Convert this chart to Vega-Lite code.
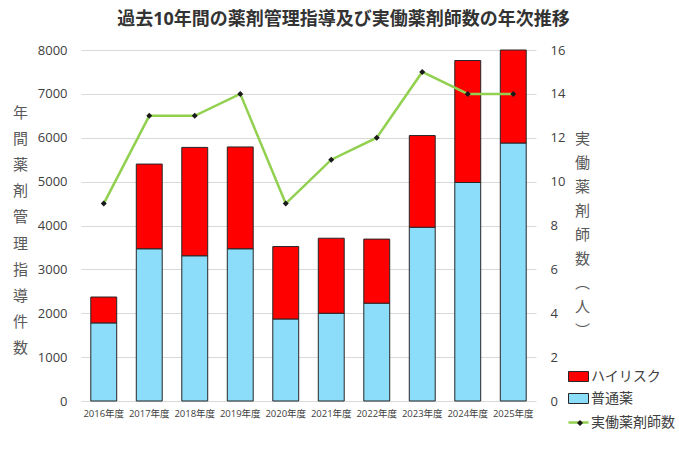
{
  "$schema": "https://vega.github.io/schema/vega-lite/v6.json",
  "description": "過去10年間の薬剤管理指導件数（積み上げ棒）と実働薬剤師数（折れ線）",
  "width": 455,
  "height": 351,
  "autosize": {"type": "none"},
  "padding": {"left": 81, "top": 50, "right": 143, "bottom": 67},
  "background": "white",
  "config": {
    "font": "Open Sans, Noto Sans CJK JP",
    "view": {"stroke": null}
  },
  "title": {
    "text": "過去10年間の薬剤管理指導及び実働薬剤師数の年次推移",
    "fontSize": 18,
    "fontWeight": "bold",
    "color": "#333333",
    "anchor": "middle",
    "frame": "group",
    "baseline": "middle",
    "dx": 35,
    "offset": 6.5
  },
  "datasets": {
    "shido": [
      {"年度": "2016年度", "区分": "普通薬", "件数": 1780},
      {"年度": "2016年度", "区分": "ハイリスク", "件数": 590},
      {"年度": "2017年度", "区分": "普通薬", "件数": 3470},
      {"年度": "2017年度", "区分": "ハイリスク", "件数": 1930},
      {"年度": "2018年度", "区分": "普通薬", "件数": 3310},
      {"年度": "2018年度", "区分": "ハイリスク", "件数": 2470},
      {"年度": "2019年度", "区分": "普通薬", "件数": 3470},
      {"年度": "2019年度", "区分": "ハイリスク", "件数": 2320},
      {"年度": "2020年度", "区分": "普通薬", "件数": 1870},
      {"年度": "2020年度", "区分": "ハイリスク", "件数": 1650},
      {"年度": "2021年度", "区分": "普通薬", "件数": 2000},
      {"年度": "2021年度", "区分": "ハイリスク", "件数": 1710},
      {"年度": "2022年度", "区分": "普通薬", "件数": 2230},
      {"年度": "2022年度", "区分": "ハイリスク", "件数": 1460},
      {"年度": "2023年度", "区分": "普通薬", "件数": 3960},
      {"年度": "2023年度", "区分": "ハイリスク", "件数": 2090},
      {"年度": "2024年度", "区分": "普通薬", "件数": 4980},
      {"年度": "2024年度", "区分": "ハイリスク", "件数": 2780},
      {"年度": "2025年度", "区分": "普通薬", "件数": 5880},
      {"年度": "2025年度", "区分": "ハイリスク", "件数": 2120}
    ],
    "yakuzaishi": [
      {"年度": "2016年度", "薬剤師数": 9},
      {"年度": "2017年度", "薬剤師数": 13},
      {"年度": "2018年度", "薬剤師数": 13},
      {"年度": "2019年度", "薬剤師数": 14},
      {"年度": "2020年度", "薬剤師数": 9},
      {"年度": "2021年度", "薬剤師数": 11},
      {"年度": "2022年度", "薬剤師数": 12},
      {"年度": "2023年度", "薬剤師数": 15},
      {"年度": "2024年度", "薬剤師数": 14},
      {"年度": "2025年度", "薬剤師数": 14}
    ]
  },
  "layer": [
    {
      "data": {"name": "shido"},
      "mark": {"type": "bar", "stroke": "#262626", "strokeWidth": 1},
      "encoding": {
        "x": {
          "field": "年度",
          "type": "nominal",
          "sort": null,
          "scale": {"paddingInner": 0.43, "paddingOuter": 0.215},
          "axis": {
            "title": null,
            "labelAngle": 0,
            "labelFontSize": 9.5,
            "labelColor": "#404040",
            "labelPadding": 7,
            "ticks": false,
            "domain": false,
            "grid": false
          }
        },
        "y": {
          "field": "件数",
          "type": "quantitative",
          "stack": "zero",
          "scale": {"domain": [0, 8000]},
          "axis": {
            "orient": "left",
            "values": [0, 1000, 2000, 3000, 4000, 5000, 6000, 7000, 8000],
            "format": "d",
            "labelFontSize": 13,
            "labelColor": "#404040",
            "labelPadding": 14,
            "ticks": false,
            "domain": false,
            "grid": true,
            "gridColor": "#D9D9D9",
            "gridWidth": 1,
            "title": ["年", "間", "薬", "剤", "管", "理", "指", "導", "件", "数"],
            "titleAngle": 0,
            "titleAlign": "center",
            "titleBaseline": "middle",
            "titleX": -61,
            "titleY": 62,
            "titleFontSize": 15,
            "titleFontWeight": "normal",
            "titleColor": "#595959",
            "titleLineHeight": 26.2
          }
        },
        "color": {
          "field": "区分",
          "type": "nominal",
          "scale": {"domain": ["ハイリスク", "普通薬"], "range": ["#FF0000", "#8CDDFA"]},
          "legend": {
            "orient": "none",
            "legendX": 487,
            "legendY": 316,
            "title": null,
            "symbolType": "M-1,-0.5H1V0.5H-1Z",
            "symbolSize": 400,
            "symbolStrokeColor": "#262626",
            "symbolStrokeWidth": 1,
            "labelFontSize": 14,
            "labelColor": "#404040",
            "labelOffset": 2,
            "rowPadding": 4
          }
        },
        "order": {"field": "区分", "sort": "descending"}
      }
    },
    {
      "data": {"name": "yakuzaishi"},
      "encoding": {
        "x": {"field": "年度", "type": "nominal", "sort": null},
        "y": {
          "field": "薬剤師数",
          "type": "quantitative",
          "scale": {"domain": [0, 16]},
          "axis": {
            "orient": "right",
            "values": [0, 2, 4, 6, 8, 10, 12, 14, 16],
            "labelFontSize": 13,
            "labelColor": "#404040",
            "labelPadding": 14,
            "ticks": false,
            "domain": false,
            "grid": false,
            "title": ["実", "働", "薬", "剤", "師", "数", "︵", "人", "︶"],
            "titleAngle": 0,
            "titleAlign": "center",
            "titleBaseline": "middle",
            "titleX": 46,
            "titleY": 88,
            "titleFontSize": 15,
            "titleFontWeight": "normal",
            "titleColor": "#595959",
            "titleLineHeight": 24
          }
        }
      },
      "layer": [
        {
          "mark": {"type": "line", "strokeWidth": 2.5},
          "encoding": {
            "stroke": {
              "datum": "実働薬剤師数",
              "type": "nominal",
              "scale": {"range": ["#92D050"]},
              "legend": {
                "orient": "none",
                "legendX": 486,
                "legendY": 361,
                "title": null,
                "symbolType": "stroke",
                "symbolSize": 400,
                "symbolStrokeWidth": 2.5,
                "labelFontSize": 14,
                "labelColor": "#404040",
                "labelOffset": 1
              }
            }
          }
        },
        {
          "mark": {"type": "point", "filled": true, "color": "#1A1A1A", "opacity": 1, "size": 36},
          "encoding": {
            "shape": {
              "datum": "マーカー",
              "type": "nominal",
              "scale": {"range": ["diamond"]},
              "legend": {
                "orient": "none",
                "legendX": 494,
                "legendY": 368,
                "title": null,
                "symbolSize": 36,
                "symbolStrokeWidth": 0,
                "symbolFillColor": "#1A1A1A",
                "labelExpr": "''"
              }
            }
          }
        }
      ]
    }
  ],
  "resolve": {"scale": {"y": "independent"}}
}
